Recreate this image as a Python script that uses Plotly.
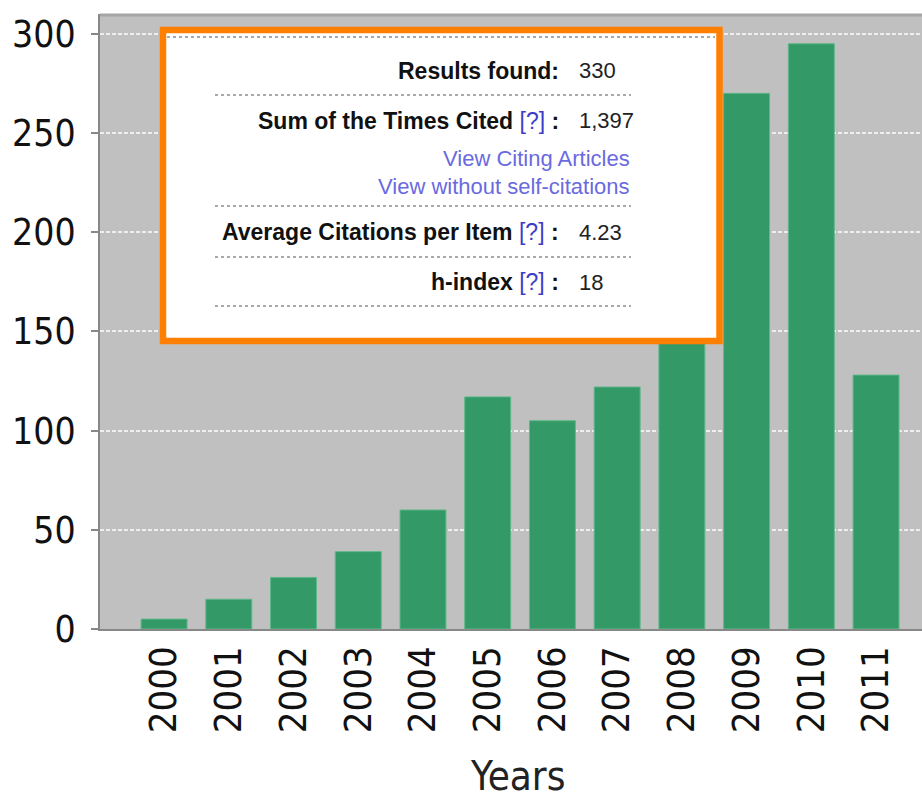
import plotly.graph_objects as go

years = ["2000", "2001", "2002", "2003", "2004", "2005", "2006", "2007", "2008", "2009", "2010", "2011"]
citations = [5, 15, 26, 39, 60, 117, 105, 122, 215, 270, 295, 128]
y_ticks = [0, 50, 100, 150, 200, 250, 300]

results_found = "330"
sum_cited = "1,397"
avg_cited = "4.23"
h_index = "18"

# pixel helpers (plot area: x 100..922, y 14..629)
L, R, T, B = 100, 922, 14, 629
def px(x):
    return (x - L) / (R - L)
def py(y):
    return (B - y) / (B - T)

fig = go.Figure()
fig.add_trace(go.Bar(
    x=years, y=citations,
    marker=dict(color="#339966", line=dict(color="#5fb88a", width=1)),
    width=0.71,
))

shapes = []
# top border of plot
shapes.append(dict(type="line", xref="paper", yref="paper", x0=0, x1=1, y0=py(15), y1=py(15),
                   line=dict(color="#a6a6a6", width=3), layer="above"))
# info box
shapes.append(dict(type="rect", xref="paper", yref="paper",
                   x0=px(163), x1=px(719.5), y0=py(30), y1=py(341),
                   fillcolor="white", line=dict(color="#ff8000", width=6.5), layer="above"))
# dotted separators
shapes.append(dict(type="line", xref="paper", yref="paper", x0=px(167), x1=px(715), y0=py(37), y1=py(37),
                   line=dict(color="#555555", width=1.2, dash="dot"), layer="above"))
for yy in [95, 206, 257, 306]:
    shapes.append(dict(type="line", xref="paper", yref="paper", x0=px(215), x1=px(631), y0=py(yy), y1=py(yy),
                       line=dict(color="#555555", width=1.2, dash="dot"), layer="above"))

q = "<span style='color:#3c3cc8'>[?]</span>"
labels = [
    ("<b>Results found:</b>", 71),
    ("<b>Sum of the Times Cited </b>" + q + "<b> :</b>", 121),
    ("<b>Average Citations per Item </b>" + q + "<b> :</b>", 232),
    ("<b>h-index </b>" + q + "<b> :</b>", 282),
]
values = [(results_found, 71), (sum_cited, 121), (avg_cited, 232), (h_index, 282)]
ann = []
for t, yy in labels:
    ann.append(dict(text=t, xref="paper", yref="paper", x=px(561), y=py(yy), xanchor="right", yanchor="middle",
                    showarrow=False, font=dict(family="Liberation Sans, Arial", size=23, color="#111111")))
for t, yy in values:
    ann.append(dict(text=t, xref="paper", yref="paper", x=px(577), y=py(yy), xanchor="left", yanchor="middle",
                    showarrow=False, font=dict(family="Liberation Sans, Arial", size=22, color="#222222")))
for t, yy in [("View Citing Articles", 159), ("View without self-citations", 187)]:
    ann.append(dict(text=t, xref="paper", yref="paper", x=px(632), y=py(yy), xanchor="right", yanchor="middle",
                    showarrow=False, font=dict(family="Liberation Sans, Arial", size=22, color="#6a6ae0")))
ann.append(dict(text="Years", xref="paper", yref="paper", x=px(517), y=py(776), xanchor="center", yanchor="middle",
                showarrow=False, font=dict(family="DejaVu Sans Condensed, DejaVu Sans", size=40, color="#222222")))

fig.update_layout(
    width=922, height=800,
    margin=dict(l=L, r=922 - R, t=T, b=800 - B, pad=0),
    paper_bgcolor="white", plot_bgcolor="#c0c0c0",
    showlegend=False,
    shapes=shapes, annotations=ann,
    xaxis=dict(type="category", range=[-0.99, 11.71], tickangle=-90, ticks="",
               showgrid=False, showline=True, linecolor="#888888", linewidth=2,
               tickfont=dict(family="DejaVu Sans Condensed, DejaVu Sans", size=38, color="#111111"),
               ticklabelstandoff=0),
    yaxis=dict(range=[0, 310], tickvals=y_ticks, ticks="outside", ticklen=7, tickcolor="#888888", tickwidth=2,
               showline=True, linecolor="#888888", linewidth=2, zeroline=False,
               showgrid=True, gridcolor="#eeeeee", gridwidth=2, griddash="4px,2px",
               tickfont=dict(family="DejaVu Sans Condensed, DejaVu Sans", size=37, color="#111111"),
               ticklabelstandoff=8),
)

fig.write_html("out.html", config={"displayModeBar": False},
               post_script="document.body.style.margin='0';document.body.style.overflow='hidden';")
